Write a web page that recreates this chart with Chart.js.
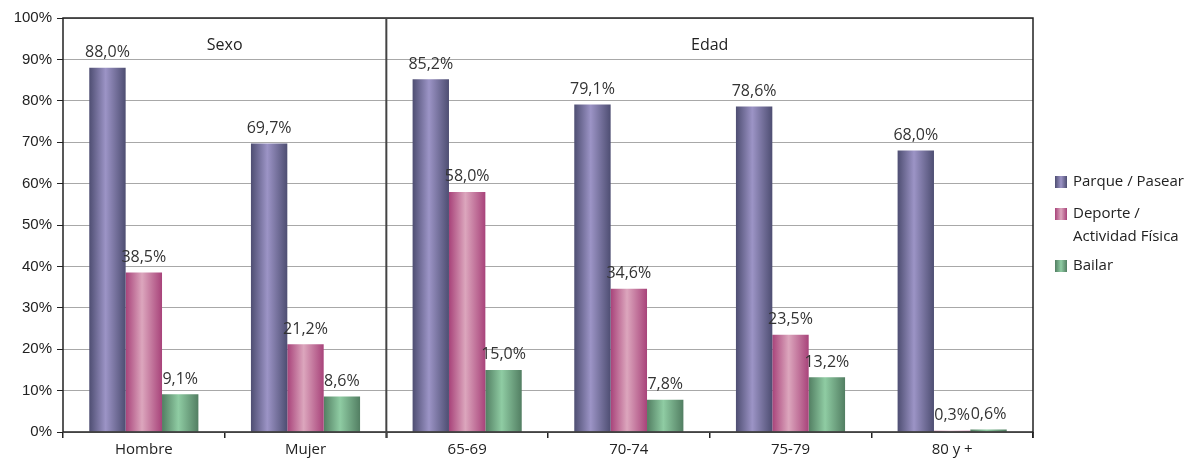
<!DOCTYPE html>
<html>
<head>
<meta charset="utf-8">
<script src="https://cdn.jsdelivr.net/npm/chart.js@4"></script>
<style>
  html, body { margin: 0; padding: 0; background: #fff; }
  #wrap { width: 1186px; height: 463px; }
</style>
</head>
<body>
<div id="wrap"><canvas id="chart" width="1186" height="463"></canvas></div>
<script>
var categories = ['Hombre', 'Mujer', '65-69', '70-74', '75-79', '80 y +'];
var groupNames = ['Sexo', 'Edad'];
var groupSizes = [2, 4];
var parque = [88.0, 69.7, 85.2, 79.1, 78.6, 68.0];
var deporte = [38.5, 21.2, 58.0, 34.6, 23.5, 0.3];
var bailar = [9.1, 8.6, 15.0, 7.8, 13.2, 0.6];
var seriesNames = [['Parque / Pasear'], ['Deporte /', 'Actividad Física'], ['Bailar']];

// dark edge, light centre stops for each series
var shades = [
  ['#4e4e72', '#9c94c6', '#4e4e72'],
  ['#a8437a', '#dca6bd', '#a8437a'],
  ['#527e62', '#8fcca3', '#527e62']
];

var FONT = '"Open Sans", "Noto Sans", sans-serif';

function fmt(v) {
  return v.toFixed(1).replace('.', ',') + '%';
}

var gradientBars = {
  id: 'gradientBars',
  beforeDatasetsDraw: function(chart) {
    var ctx = chart.ctx;
    chart.data.datasets.forEach(function(ds, i) {
      var s = shades[i];
      chart.getDatasetMeta(i).data.forEach(function(el) {
        var x0 = el.x - el.width / 2, x1 = el.x + el.width / 2;
        var g = ctx.createLinearGradient(x0, 0, x1, 0);
        g.addColorStop(0, s[0]);
        g.addColorStop(0.45, s[1]);
        g.addColorStop(1, s[2]);
        el.options = Object.assign({}, el.options, { backgroundColor: g });
      });
    });
  },
  afterDatasetsDraw: function(chart) {
    var ctx = chart.ctx;
    ctx.save();
    ctx.font = '16px ' + FONT;
    ctx.fillStyle = '#333';
    ctx.textAlign = 'center';
    ctx.textBaseline = 'bottom';
    chart.data.datasets.forEach(function(ds, i) {
      chart.getDatasetMeta(i).data.forEach(function(el, j) {
        ctx.fillText(fmt(ds.data[j]), el.x, el.y - 7);
      });
    });
    ctx.restore();
  }
};

var frame = {
  id: 'frame',
  afterDraw: function(chart) {
    var ctx = chart.ctx, a = chart.chartArea, x = chart.scales.x;
    ctx.save();
    // outer box
    ctx.strokeStyle = '#222';
    ctx.lineWidth = 1.5;
    ctx.strokeRect(a.left, a.top, a.right - a.left, a.bottom - a.top);
    // right edge tick
    ctx.beginPath();
    ctx.moveTo(a.right, a.bottom);
    ctx.lineTo(a.right, a.bottom + 6);
    ctx.stroke();
    // group separators and headers
    ctx.font = '16px ' + FONT;
    ctx.fillStyle = '#222';
    ctx.textAlign = 'center';
    ctx.textBaseline = 'middle';
    var start = 0;
    groupSizes.forEach(function(n, g) {
      var end = start + n - 1;
      var left = start === 0 ? a.left : (x.getPixelForValue(start - 1) + x.getPixelForValue(start)) / 2;
      var right = end === categories.length - 1 ? a.right : (x.getPixelForValue(end) + x.getPixelForValue(end + 1)) / 2;
      ctx.fillText(groupNames[g], (left + right) / 2, a.top + 27);
      if (end < categories.length - 1) {
        ctx.strokeStyle = '#444';
        ctx.lineWidth = 2;
        ctx.beginPath();
        ctx.moveTo(right, a.top);
        ctx.lineTo(right, a.bottom + 6);
        ctx.stroke();
      }
      start = end + 1;
    });
    // legend
    ctx.font = '15px ' + FONT;
    ctx.textAlign = 'left';
    var ly = [182, 214, 266];
    seriesNames.forEach(function(lines, i) {
      var s = shades[i];
      var g = ctx.createLinearGradient(1055, 0, 1067, 0);
      g.addColorStop(0, s[0]);
      g.addColorStop(0.5, s[1]);
      g.addColorStop(1, s[2]);
      ctx.fillStyle = g;
      ctx.fillRect(1055, ly[i] - 6, 12, 12);
      ctx.fillStyle = '#222';
      lines.forEach(function(t, k) {
        ctx.fillText(t, 1073, ly[i] + k * 23);
      });
    });
    ctx.restore();
  }
};

new Chart(document.getElementById('chart'), {
  type: 'bar',
  data: {
    labels: categories,
    datasets: [
      { label: seriesNames[0].join(' '), data: parque },
      { label: seriesNames[1].join(' '), data: deporte },
      { label: seriesNames[2].join(' '), data: bailar }
    ]
  },
  options: {
    responsive: false,
    animation: false,
    layout: { padding: { top: 18, right: 153, left: 0, bottom: 0 } },
    datasets: {
      bar: { categoryPercentage: 0.675, barPercentage: 1.0, borderWidth: 0 }
    },
    plugins: {
      legend: { display: false },
      tooltip: { enabled: false }
    },
    scales: {
      x: {
        grid: { offset: true, drawOnChartArea: false, tickLength: 6, tickColor: '#222', lineWidth: 1.5 },
        border: { display: false },
        ticks: { color: '#222', font: { family: FONT, size: 15 }, padding: 3 },
        afterFit: function(s) { s.height = 31; }
      },
      y: {
        min: 0,
        max: 100,
        ticks: {
          stepSize: 10,
          color: '#222',
          font: { family: '"Liberation Sans", Arial, sans-serif', size: 15 },
          padding: 5,
          callback: function(v) { return v + '%'; }
        },
        grid: { color: '#a8a8a8', lineWidth: 1, tickLength: 6, tickColor: '#222' },
        border: { display: false },
        afterFit: function(s) { s.width = 63; }
      }
    }
  },
  plugins: [gradientBars, frame]
});
</script>
</body>
</html>
